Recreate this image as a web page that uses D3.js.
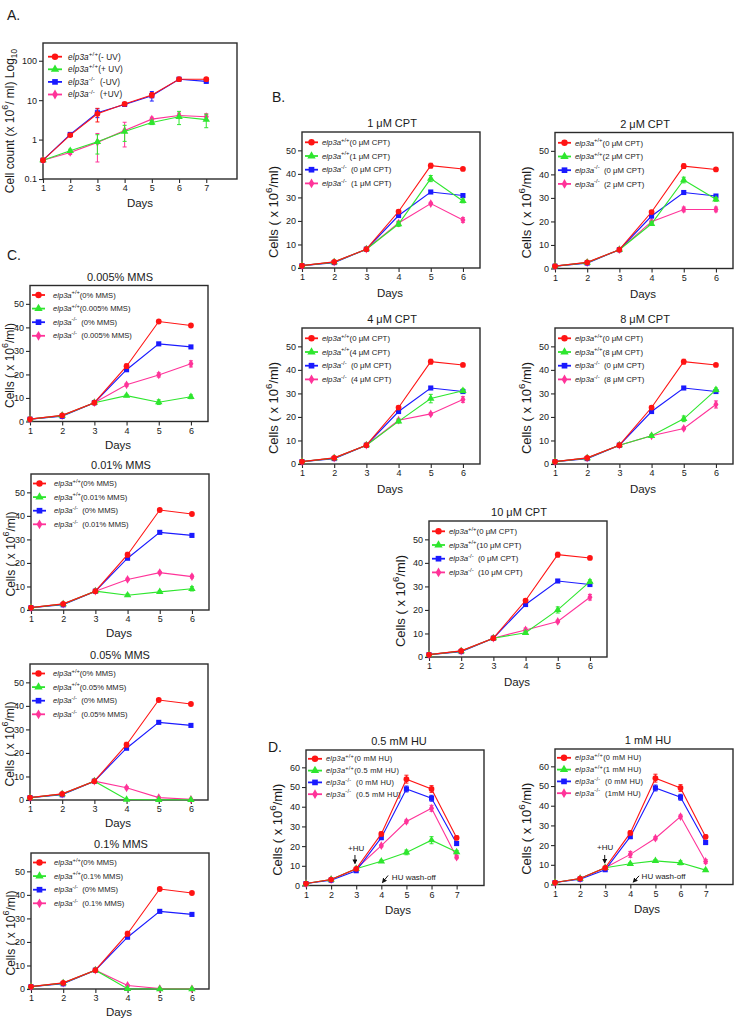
<!DOCTYPE html>
<html>
<head>
<meta charset="utf-8">
<script src="https://cdn.jsdelivr.net/npm/d3@7"></script>
<style>
  body { margin: 0; background: #fff; }
  svg { display: block; font-family: "Liberation Sans", Arial, sans-serif; }
  text { white-space: pre; fill: #1a1a1a; }
</style>
</head>
<body>
<svg id="fig" width="735" height="1020"></svg>
<script>
// ---------- data ----------
const days6 = [1, 2, 3, 4, 5, 6];
const days7 = [1, 2, 3, 4, 5, 6, 7];

// A: UV, log scale
const uvLabels = ['(- UV)', '(+ UV)', '  (-UV)', '  (+UV)'];
const uvWtNo   = [0.3, 1.3, 4.5, 8.0, 13.5, 34, 34];
const uvWtNoErr = [0.02, 0.1, 1.7, 0.6, 2.0, 2, 3];
const uvWtYes  = [0.3, 0.52, 0.88, 1.6, 2.7, 3.8, 3.2];
const uvWtYesErr = [0.02, 0.05, 0.45, 0.7, 0.3, 1.4, 1.2];
const uvKoNo   = [0.3, 1.35, 4.8, 7.8, 13, 34, 30];
const uvKoNoErr = [0.02, 0.1, 1.2, 0.6, 3.5, 2, 2.5];
const uvKoYes  = [0.3, 0.47, 0.85, 1.7, 3.3, 4.1, 3.8];
const uvKoYesErr = [0.02, 0.05, 0.58, 1.05, 0.4, 0.6, 0.7];

// B: CPT
const cptDoses = ['1', '2', '4', '8', '10'];
const cptWt0  = [1, 2.6, 8, 24, 43.5, 42.1];
const cptWt0Err = [0.2, 0.3, 0.4, 0.7, 1.0, 0.6];
const cptKo0  = [1, 2.3, 8, 22.3, 32.3, 30.8];
const cptKo0Err = [0.2, 0.3, 0.4, 0.7, 0.6, 0.6];
const cptWt1  = [1, 2.5, 8, 18.7, 38, 28.5];
const cptWt1Err = [0.2, 0.3, 0.4, 1.0, 1.3, 0.8];
const cptKo1  = [1, 2.5, 8, 19.1, 27.4, 20.4];
const cptKo1Err = [0.2, 0.3, 0.4, 0.8, 0.5, 1.0];
const cptWt2  = [1, 2.5, 8, 19, 37.6, 29.4];
const cptWt2Err = [0.2, 0.3, 0.4, 0.7, 1.2, 0.8];
const cptKo2  = [1, 2.5, 8, 19.9, 25.1, 25.1];
const cptKo2Err = [0.2, 0.3, 0.4, 0.6, 1.0, 1.0];
const cptWt4  = [1, 2.5, 8, 18.1, 27.8, 31.1];
const cptWt4Err = [0.2, 0.3, 0.4, 0.6, 1.8, 0.8];
const cptKo4  = [1, 2.5, 8, 18.6, 21.3, 27.4];
const cptKo4Err = [0.2, 0.3, 0.4, 0.6, 0.5, 1.2];
const cptWt8  = [1, 2.5, 8, 12, 19.2, 31.5];
const cptWt8Err = [0.2, 0.3, 0.4, 0.6, 1.2, 0.8];
const cptKo8  = [1, 2.5, 8, 12, 15.1, 25.3];
const cptKo8Err = [0.2, 0.3, 0.4, 0.5, 0.5, 1.5];
const cptWt10 = [1, 2.5, 8, 10.3, 20, 32];
const cptWt10Err = [0.2, 0.3, 0.4, 0.6, 1.3, 0.8];
const cptKo10 = [1, 2.5, 8, 11.5, 15.1, 25.4];
const cptKo10Err = [0.2, 0.3, 0.4, 0.8, 0.5, 1.2];

// C: MMS
const mmsDoses = ['0.005', '0.01', '0.05', '0.1'];
const mmsWt0  = [1, 2.6, 8, 23.5, 42.5, 40.8];
const mmsWt0Err = [0.2, 0.3, 0.4, 1.0, 0.4, 0.6];
const mmsKo0  = [1, 2.2, 8, 22, 33, 31.7];
const mmsKo0Err = [0.2, 0.3, 0.4, 0.5, 0.5, 0.5];
const mmsWt005 = [1, 2.5, 8, 11, 8.2, 10.5];
const mmsWt005Err = [0.2, 0.3, 0.4, 0.5, 1.0, 0.8];
const mmsKo005 = [1, 2.5, 8, 15.6, 19.8, 24.5];
const mmsKo005Err = [0.2, 0.3, 0.4, 0.6, 0.9, 1.3];
const mmsWt01 = [1, 2.5, 8, 6.3, 7.7, 9];
const mmsWt01Err = [0.2, 0.3, 0.4, 0.5, 0.5, 0.9];
const mmsKo01 = [1, 2.5, 8, 13, 15.9, 14.2];
const mmsKo01Err = [0.2, 0.3, 0.4, 0.5, 0.5, 0.6];
const mmsWt05 = [1, 2.5, 8, 0.2, 0.1, 0.1];
const mmsWt05Err = [0.2, 0.3, 0.4, 0.1, 0.1, 0.1];
const mmsKo05 = [1, 2.5, 8, 5.2, 1, 0.3];
const mmsKo05Err = [0.2, 0.3, 0.4, 0.5, 0.3, 0.2];
const mmsWt1  = [1, 2.5, 8, 0.1, 0, 0];
const mmsWt1Err = [0.2, 0.3, 0.4, 0.1, 0, 0];
const mmsKo1  = [1, 2.5, 8, 1.5, 0.2, 0.1];
const mmsKo1Err = [0.2, 0.3, 0.4, 0.4, 0.1, 0.1];

// D: HU
const huDoses = ['0.5', '1'];
const huWt0  = [1, 3, 8.5, 26.2, 54, 49, 24.2];
const huWt0Err = [0.2, 0.4, 0.6, 1.0, 2.0, 1.7, 1.0];
const huKo0  = [1, 2.7, 7.5, 24.3, 49, 44.3, 21.3];
const huKo0Err = [0.2, 0.3, 0.5, 1.0, 1.5, 1.5, 1.0];
const huWt05 = [1, 3, 8.5, 12.3, 16.8, 23, 17];
const huWt05Err = [0.2, 0.3, 0.5, 0.6, 1.2, 1.8, 0.8];
const huKo05 = [1, 3, 8.5, 20.2, 32.5, 39.2, 14.4];
const huKo05Err = [0.2, 0.3, 0.5, 0.6, 0.8, 1.5, 0.8];
const huWt1  = [1, 3, 8.5, 10.5, 12, 11, 7.3];
const huWt1Err = [0.2, 0.3, 0.5, 0.6, 0.7, 1.0, 0.5];
const huKo1  = [1, 3, 8.5, 15.3, 23.5, 34.5, 11.7];
const huKo1Err = [0.2, 0.3, 0.5, 1.5, 0.8, 0.8, 1.0];

const linTicks50 = [0, 10, 20, 30, 40, 50];
const linTicks60 = [0, 10, 20, 30, 40, 50, 60];
const logTicks = [0.1, 1, 10, 100];

// ---------- styles ----------
const styles = [
  { color: '#ff1414', sym: d3.symbolCircle, size: 26 },
  { color: '#2ee62e', sym: d3.symbolTriangle, size: 24 },
  { color: '#1a1aff', sym: d3.symbolSquare, size: 26 },
  { color: '#ff3399', sym: d3.symbolDiamond, size: 22 }
];
const genotypes = ['+/+', '+/+', '-/-', '-/-'];

const svg = d3.select('#fig');

function rich(t, parts, fs) {
  let shift = 0;
  parts.forEach(([s, kind]) => {
    const ts = t.append('tspan').text(s);
    let target = 0, size = fs;
    if (kind === 'sup') { target = -fs * 0.45; size = fs * 0.75; }
    if (kind === 'sub') { target = fs * 0.3; size = fs * 0.7; }
    if (kind === 'i') ts.style('font-style', 'italic');
    ts.attr('dy', (target - shift).toFixed(2)).style('font-size', size + 'px');
    shift = target;
  });
}

function chart(cfg) {
  const w = cfg.w || 178, h = cfg.h || 136;
  const g = svg.append('g').attr('transform', `translate(${cfg.x0},${cfg.y0})`);
  const x = d3.scaleLinear().domain([1, cfg.xMax]).range([0, w]);
  const y = cfg.log
    ? d3.scaleLog().domain([0.1, cfg.yMax]).range([h, 0])
    : d3.scaleLinear().domain([0, cfg.yMax]).range([h, 0]);

  const xa = g.append('g').attr('transform', `translate(0,${h})`)
    .call(d3.axisBottom(x).tickValues(cfg.xTicks).tickSize(4).tickPadding(2).tickFormat(d3.format('d')));
  const ya = g.append('g')
    .call(d3.axisLeft(y).tickValues(cfg.yTicks).tickSize(4).tickPadding(2)
      .tickFormat(cfg.log ? (d => String(d)) : d3.format('d')));
  [xa, ya].forEach(a => {
    a.select('.domain').remove();
    a.selectAll('line').attr('stroke', '#2b2b2b').attr('stroke-width', 1.1);
    a.selectAll('text').style('font-size', '9px').style('font-family', 'inherit').attr('fill', '#1a1a1a');
  });

  g.append('rect').attr('width', w).attr('height', h)
    .attr('fill', 'none').attr('stroke', '#2b2b2b').attr('stroke-width', 1.4);

  // series (red drawn last, on top)
  const line = d3.line().x(d => x(d.day)).y(d => y(d.v));
  const lo = d => cfg.log ? Math.max(d.v - d.e, 0.1) : Math.max(d.v - d.e, 0);
  cfg.series.slice().reverse().forEach((s, ri) => {
    const st = styles[cfg.series.length - 1 - ri];
    const pts = cfg.days.map((d, i) => ({ day: d, v: s.vals[i], e: s.err[i] }));
    const sg = g.append('g');
    sg.append('path').datum(pts).attr('d', line)
      .attr('fill', 'none').attr('stroke', st.color).attr('stroke-width', 1.1);
    sg.selectAll('line.err').data(pts).join('line').attr('class', 'err')
      .attr('x1', d => x(d.day)).attr('x2', d => x(d.day))
      .attr('y1', d => y(lo(d))).attr('y2', d => y(d.v + d.e))
      .attr('stroke', st.color).attr('stroke-width', 1);
    ['lo', 'hi'].forEach(k => {
      sg.selectAll('line.cap' + k).data(pts).join('line').attr('class', 'cap' + k)
        .attr('x1', d => x(d.day) - 2).attr('x2', d => x(d.day) + 2)
        .attr('y1', d => y(k === 'hi' ? d.v + d.e : lo(d)))
        .attr('y2', d => y(k === 'hi' ? d.v + d.e : lo(d)))
        .attr('stroke', st.color).attr('stroke-width', 1);
    });
    sg.selectAll('path.pt').data(pts).join('path').attr('class', 'pt')
      .attr('transform', d => `translate(${x(d.day)},${y(d.v)})`)
      .attr('d', d3.symbol().type(st.sym).size(st.size))
      .attr('fill', st.color);
  });

  // legend
  const L = cfg.legend;
  cfg.series.forEach((s, i) => {
    const st = styles[i];
    const ly = L.y + i * L.dy;
    g.append('line').attr('x1', L.x1).attr('x2', L.x2).attr('y1', ly).attr('y2', ly)
      .attr('stroke', st.color).attr('stroke-width', 1.8);
    g.append('path').attr('transform', `translate(${(L.x1 + L.x2) / 2},${ly})`)
      .attr('d', d3.symbol().type(st.sym).size(st.size + 6)).attr('fill', st.color);
    const t = g.append('text').attr('x', L.tx).attr('y', ly + L.fs * 0.35)
      .style('letter-spacing', (L.ls || 0) + 'px');
    rich(t, [['elp3a', 'i'], [genotypes[i], 'sup'], [s.label, 'n']], L.fs);
  });

  // title
  if (cfg.title) {
    g.append('text').attr('x', cfg.titleX != null ? cfg.titleX : 90).attr('y', -5)
      .attr('text-anchor', 'middle').style('font-size', '11px').text(cfg.title);
  }
  // x label
  g.append('text').attr('x', cfg.daysX != null ? cfg.daysX : 88).attr('y', h + (cfg.daysDy || 29))
    .attr('text-anchor', 'middle').style('font-size', '11.5px').text('Days');
  // y label
  const yl = g.append('text')
    .attr('transform', `translate(${cfg.yLabX},${h / 2 + (cfg.yLabDy || 10)}) rotate(-90)`)
    .attr('text-anchor', 'middle').attr('dominant-baseline', 'middle');
  rich(yl, cfg.yLabel, cfg.yLabFs || 13);

  // annotations
  (cfg.notes || []).forEach(n => {
    g.append('text').attr('x', x(n.tx)).attr('y', y(n.ty))
      .attr('text-anchor', n.anchor || 'start').style('font-size', '8px').text(n.text);
    g.append('line').attr('x1', x(n.ax1)).attr('y1', y(n.ay1)).attr('x2', x(n.ax2)).attr('y2', y(n.ay2))
      .attr('stroke', '#111').attr('stroke-width', 1).attr('marker-end', 'url(#arrow)');
  });
  return g;
}

// arrow marker
svg.append('defs').append('marker').attr('id', 'arrow')
  .attr('viewBox', '0 0 10 10').attr('refX', 8).attr('refY', 5)
  .attr('markerWidth', 5).attr('markerHeight', 5).attr('orient', 'auto')
  .append('path').attr('d', 'M0,0L10,5L0,10z').attr('fill', '#111');

const cellsLabel = [['Cells ( x 10', 'n'], ['6', 'sup'], ['/ml)', 'n']];

// Panel letters
[['A.', 7, 20], ['B.', 272, 102], ['C.', 7, 260], ['D.', 268, 752]].forEach(([s, px, py]) => {
  svg.append('text').attr('x', px).attr('y', py).style('font-size', '14px').text(s);
});

// ---------- Panel A ----------
chart({
  x0: 43, y0: 43, w: 194, h: 136, log: true, xMax: 8.13, yMax: 282,
  days: days7, xTicks: days7, yTicks: logTicks,
  series: [
    { vals: uvWtNo, err: uvWtNoErr, label: uvLabels[0] },
    { vals: uvWtYes, err: uvWtYesErr, label: uvLabels[1] },
    { vals: uvKoNo, err: uvKoNoErr, label: uvLabels[2] },
    { vals: uvKoYes, err: uvKoYesErr, label: uvLabels[3] }
  ],
  legend: { x1: 5, x2: 19, tx: 25, y: 13.7, dy: 12.6, fs: 8.2, ls: 0.15 },
  daysX: 97, daysDy: 28,
  yLabX: -32, yLabDy: 0, yLabFs: 12,
  yLabel: [['Cell count (x 10', 'n'], ['6', 'sup'], ['/ ml) Log', 'n'], ['10', 'sub']]
});

// ---------- Panel B ----------
const cptSeries = [
  [cptWt1, cptWt1Err, cptKo1, cptKo1Err],
  [cptWt2, cptWt2Err, cptKo2, cptKo2Err],
  [cptWt4, cptWt4Err, cptKo4, cptKo4Err],
  [cptWt8, cptWt8Err, cptKo8, cptKo8Err],
  [cptWt10, cptWt10Err, cptKo10, cptKo10Err]
];
const cptPos = [[302, 132], [555, 132.5], [302, 328], [555, 328], [429, 521]];
cptDoses.forEach((dose, i) => {
  const [wt, wtE, ko, koE] = cptSeries[i];
  chart({
    x0: cptPos[i][0], y0: cptPos[i][1], xMax: 6.53, yMax: 57.8,
    days: days6, xTicks: days6, yTicks: linTicks50,
    title: `${dose} \u03bcM CPT`,
    series: [
      { vals: cptWt0, err: cptWt0Err, label: '(0 \u03bcM CPT)' },
      { vals: wt, err: wtE, label: `(${dose} \u03bcM CPT)` },
      { vals: cptKo0, err: cptKo0Err, label: '  (0 \u03bcM CPT)' },
      { vals: ko, err: koE, label: `  (${dose} \u03bcM CPT)` }
    ],
    legend: { x1: 3, x2: 16, tx: 20, y: 10.3, dy: 13.7, fs: 7.8 },
    yLabX: -27, yLabDy: 12, yLabel: cellsLabel
  });
});

// ---------- Panel C ----------
const mmsSeries = [
  [mmsWt005, mmsWt005Err, mmsKo005, mmsKo005Err],
  [mmsWt01, mmsWt01Err, mmsKo01, mmsKo01Err],
  [mmsWt05, mmsWt05Err, mmsKo05, mmsKo05Err],
  [mmsWt1, mmsWt1Err, mmsKo1, mmsKo1Err]
];
const mmsPos = [[30, 285.5], [31, 474], [30, 664], [31, 853]];
mmsDoses.forEach((dose, i) => {
  const [wt, wtE, ko, koE] = mmsSeries[i];
  chart({
    x0: mmsPos[i][0], y0: mmsPos[i][1], xMax: 6.53, yMax: 57.8,
    days: days6, xTicks: days6, yTicks: linTicks50,
    title: `${dose}% MMS`,
    series: [
      { vals: mmsWt0, err: mmsWt0Err, label: '(0% MMS)' },
      { vals: wt, err: wtE, label: `(${dose}% MMS)` },
      { vals: mmsKo0, err: mmsKo0Err, label: '  (0% MMS)' },
      { vals: ko, err: koE, label: `  (${dose}% MMS)` }
    ],
    legend: { x1: 2, x2: 15, tx: 23, y: 9.5, dy: 13.6, fs: 7.6 },
    daysDy: 27,
    yLabX: -19, yLabDy: 12, yLabFs: 12, yLabel: cellsLabel
  });
});

// ---------- Panel D ----------
const huSeries = [
  [huWt05, huWt05Err, huKo05, huKo05Err, '(0.5 mM HU)', '  (0.5 mM HU)'],
  [huWt1, huWt1Err, huKo1, huKo1Err, '(1 mM HU)', '  (1mM HU)']
];
const huPos = [[306, 750], [555, 749]];
const huNotes = [
  [{ text: '+HU', tx: 3, ty: 17.5, anchor: 'middle', ax1: 2.95, ay1: 15.5, ax2: 2.95, ay2: 11.2 },
   { text: 'HU wash-off', tx: 4.42, ty: 2.8, ax1: 4.27, ay1: 5.1, ax2: 4.05, ay2: 1.6 }],
  [{ text: '+HU', tx: 3, ty: 17.5, anchor: 'middle', ax1: 2.98, ay1: 15, ax2: 2.98, ay2: 11 },
   { text: 'HU wash-off', tx: 4.45, ty: 2.6, ax1: 4.35, ay1: 4.4, ax2: 4.12, ay2: 1.3 }]
];
huDoses.forEach((dose, i) => {
  const [wt, wtE, ko, koE, l1, l3] = huSeries[i];
  chart({
    x0: huPos[i][0], y0: huPos[i][1], h: 135.5, xMax: 8.09, yMax: 68.8,
    days: days7, xTicks: days7, yTicks: linTicks60,
    title: `${dose} mM HU`, titleX: 93,
    series: [
      { vals: huWt0, err: huWt0Err, label: '(0 mM HU)' },
      { vals: wt, err: wtE, label: l1 },
      { vals: huKo0, err: huKo0Err, label: '  (0 mM HU)' },
      { vals: ko, err: koE, label: l3 }
    ],
    legend: { x1: 2, x2: 16, tx: 20, y: 8.8, dy: 11.8, fs: 7.4, ls: 0.25 },
    daysX: 92, daysDy: 28.5,
    yLabX: -27, yLabDy: 12, yLabel: cellsLabel,
    notes: huNotes[i]
  });
});
</script>
</body>
</html>
